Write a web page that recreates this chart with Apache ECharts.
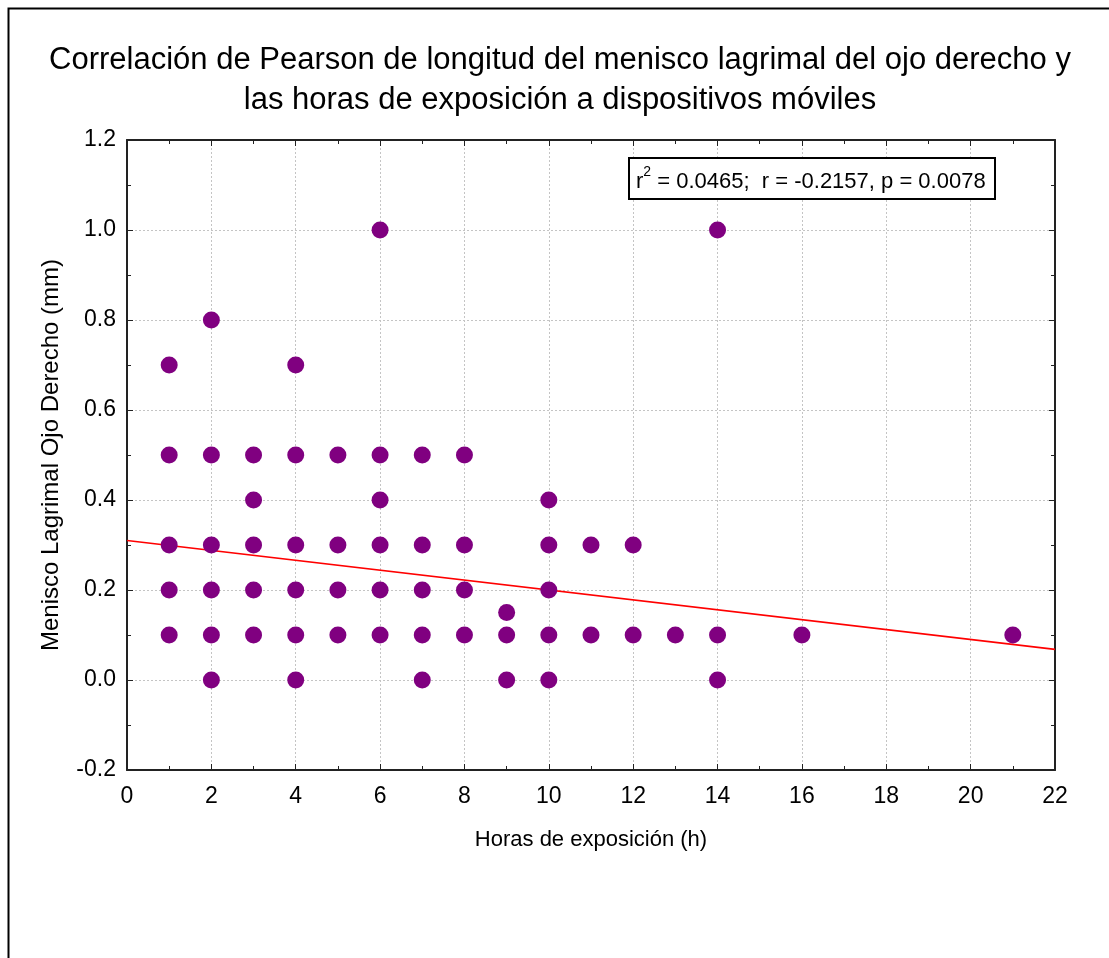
<!DOCTYPE html>
<html><head><meta charset="utf-8">
<script src="https://cdn.jsdelivr.net/npm/echarts@6/dist/echarts.min.js"></script>
<style>html,body{margin:0;padding:0;background:#fff}#c{width:1109px;height:958px}</style>
</head><body><div id="c"></div>
<script>
const titleLines = ['Correlación de Pearson de longitud del menisco lagrimal del ojo derecho y', 'las horas de exposición a dispositivos móviles'];
const xName = 'Horas de exposición (h)';
const yName = 'Menisco Lagrimal Ojo Derecho (mm)';
const hours = [1,1,1,1,1, 2,2,2,2,2,2, 3,3,3,3,3, 4,4,4,4,4,4, 5,5,5,5, 6,6,6,6,6,6, 7,7,7,7,7, 8,8,8,8, 9,9,9, 10,10,10,10,10, 11,11, 12,12, 13, 14,14,14, 16, 21];
const meniscus = [0.7,0.5,0.3,0.2,0.1, 0.8,0.5,0.3,0.2,0.1,0.0, 0.5,0.4,0.3,0.2,0.1, 0.7,0.5,0.3,0.2,0.1,0.0, 0.5,0.3,0.2,0.1, 1.0,0.5,0.4,0.3,0.2,0.1, 0.5,0.3,0.2,0.1,0.0, 0.5,0.3,0.2,0.1, 0.15,0.1,0.0, 0.4,0.3,0.2,0.1,0.0, 0.3,0.1, 0.3,0.1, 0.1, 1.0,0.1,0.0, 0.1, 0.1];
const regX = [0, 22];
const regY = [0.310, 0.068];
const statsText = ['r', '2', ' = 0.0465;  r = -0.2157, p = 0.0078'];

const points = hours.map((h, i) => [h, meniscus[i]]);
const regLine = regX.map((x, i) => [x, regY[i]]);
const FONT = 'Liberation Sans, Arial, sans-serif';

const chart = echarts.init(document.getElementById('c'), null, {renderer: 'canvas'});
const gridLine = {show: true, lineStyle: {color: '#c4c4c4', type: [2, 2], width: 1}};
const axisLine = {show: true, onZero: false, lineStyle: {color: '#222', width: 2}};
const tick = {show: true, inside: true, length: 6, lineStyle: {color: '#222', width: 1}};
const minor = {show: true, splitNumber: 2, length: 4, lineStyle: {color: '#222'}};
chart.setOption({
  animation: false,
  title: {
    text: titleLines.join('\n'), left: 555, textAlign: 'center', top: 35,
    textStyle: {fontFamily: FONT, fontSize: 31, fontWeight: 'normal', color: '#000', lineHeight: 40}
  },
  grid: {left: 127, right: 54, top: 140, bottom: 188},
  xAxis: [{
    type: 'value', min: 0, max: 22, interval: 2,
    name: xName, nameLocation: 'middle', nameGap: 59,
    nameTextStyle: {fontFamily: FONT, fontSize: 22, color: '#000'},
    axisLine: axisLine, axisTick: tick, minorTick: minor,
    axisLabel: {fontFamily: FONT, fontSize: 23, color: '#000', margin: 15},
    splitLine: gridLine
  }, {
    type: 'value', min: 0, max: 22, interval: 2, position: 'top',
    axisLine: axisLine, axisTick: tick, minorTick: minor,
    axisLabel: {show: false}, splitLine: {show: false}
  }],
  yAxis: [{
    type: 'value', min: -0.2, max: 1.2, interval: 0.2,
    name: yName, nameLocation: 'middle', nameGap: 64, nameRotate: 90,
    nameTextStyle: {fontFamily: FONT, fontSize: 24, color: '#000'},
    axisLine: axisLine, axisTick: tick, minorTick: minor,
    axisLabel: {fontFamily: FONT, fontSize: 23, color: '#000', margin: 11, formatter: v => v.toFixed(1)},
    splitLine: gridLine
  }, {
    type: 'value', min: -0.2, max: 1.2, interval: 0.2, position: 'right',
    axisLine: axisLine, axisTick: tick, minorTick: minor,
    axisLabel: {show: false}, splitLine: {show: false}
  }],
  series: [{
    type: 'line', data: regLine, symbol: 'none', silent: true,
    lineStyle: {color: '#ff0000', width: 1.6}, z: 3
  }, {
    type: 'scatter', data: points, symbol: 'circle', symbolSize: 17,
    itemStyle: {color: '#800080', opacity: 1}, z: 4
  }],
  graphic: [{
    type: 'rect', shape: {x: 8.5, y: 8.5, width: 1200, height: 1200},
    style: {fill: 'none', stroke: '#000', lineWidth: 2}, silent: true
  }, {
    type: 'rect', shape: {x: 629, y: 158, width: 366, height: 41},
    style: {fill: '#fff', stroke: '#000', lineWidth: 2}, z: 10
  }, {
    type: 'text', left: 636, top: 165, z: 11,
    style: {
      text: '{a|' + statsText[0] + '}{s|' + statsText[1] + '}{a|' + statsText[2] + '}',
      rich: {
        a: {fontFamily: FONT, fontSize: 22, color: '#000', verticalAlign: 'bottom', lineHeight: 28},
        s: {fontFamily: FONT, fontSize: 14, color: '#000', verticalAlign: 'top', lineHeight: 28, padding: [0, 0, 12, 0]}
      }
    }
  }]
});
</script></body></html>
